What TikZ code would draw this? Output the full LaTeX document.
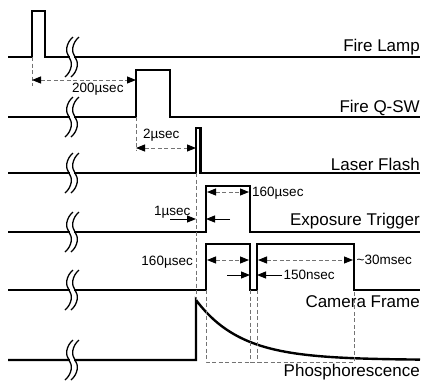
\documentclass[tikz,border=0pt]{standalone}
\usepackage{fontspec}
\setmainfont{Liberation Sans}
\usetikzlibrary{arrows.meta}
\begin{document}
\begin{tikzpicture}[x=1pt,y=-1pt,
  sig/.style={line width=2.4pt, line join=miter},
  guide/.style={draw=black!55, line width=0.9pt, dash pattern=on 4pt off 2.5pt},
  tip/.style={},
  dimarrow/.style={guide, {Triangle[length=9pt,width=7pt,color=black]}-{Triangle[length=9pt,width=7pt,color=black]}},
  solidarrow/.style={line width=0.9pt, -{Triangle[length=9pt,width=7pt]}},
  biglabel/.style={font=\fontsize{17}{19}\selectfont, inner sep=0pt, anchor=base east},
  smalllabel/.style={font=\fontsize{13.5}{15}\selectfont, inner sep=0pt},
  mybreak/.pic={
    \fill[white] (0.8,-3) rectangle (5.2,3);
    \foreach \dx in {0,6}{
      \draw[line width=1.3pt] (\dx+4,-20) .. controls (\dx-3,-14) and (\dx-4,-5) .. (\dx,0)
        .. controls (\dx+4,5) and (\dx+3,14) .. (\dx-4,20);
    }
  }
]
\useasboundingbox (0,0) rectangle (425,381);

% signals
\draw[sig] (8,57) -- (32,57) -- (32,11) -- (45,11) -- (45,57) -- (420,57);
\draw[sig] (8,117) -- (136,117) -- (136,70) -- (170,70) -- (170,117) -- (420,117);
\draw[sig] (8,173) -- (196,173) -- (196,128) -- (200.5,128) -- (200.5,173) -- (420,173);
\draw[sig] (8,232) -- (206,232) -- (206,186) -- (250,186) -- (250,232) -- (420,232);
\draw[sig] (8,290) -- (206,290) -- (206,244) -- (250,244) -- (250,290) -- (257,290)
  -- (257,244) -- (354,244) -- (354,290) -- (420,290);
\draw[sig] (8,360) -- (196,360) -- (196,300)
  -- plot[domain=196:420, samples=120] (\x,{360-60*exp(-(\x-196)/45)});

% breaks
\foreach \yy in {57,117,173,232,290,360}{
  \pic at (69,\yy) {mybreak};
}

% coordinates
\coordinate (lampStart) at (32,57);
\coordinate (lampEnd) at (32,86);
\coordinate (qswStart) at (136,117);
\coordinate (qswEnd) at (136,151);
\coordinate (a200L) at (32,80);
\coordinate (a200R) at (136,80);
\coordinate (a2L) at (136,148);
\coordinate (a2R) at (196,148);
\coordinate (laserBase) at (196,173);
\coordinate (phPeak) at (196,300);
\coordinate (e160L) at (207,192);
\coordinate (e160R) at (249,192);
\coordinate (c160L) at (207,260);
\coordinate (c160R) at (249,260);
\coordinate (c30L) at (258,260);
\coordinate (c30R) at (353,260);
\coordinate (u1a) at (170,219);
\coordinate (u1b) at (196,219);
\coordinate (u1c) at (230,219);
\coordinate (u1d) at (206,219);
\coordinate (n150a) at (227,275);
\coordinate (n150b) at (250,275);
\coordinate (n150c) at (282,275);
\coordinate (n150d) at (257,275);
\coordinate (g1t) at (206,290);
\coordinate (g1b) at (206,362);
\coordinate (g2t) at (250,290);
\coordinate (g2b) at (250,362);
\coordinate (g3t) at (257,290);
\coordinate (g3b) at (257,362);
\coordinate (g4t) at (354,290);
\coordinate (g4b) at (354,362);

% guides
\draw[guide] (lampStart) -- (lampEnd);
\draw[guide] (qswStart) -- (qswEnd);
\draw[guide] (laserBase) -- (phPeak);
\draw[guide] (g1t) -- (g1b) -- (g4b) -- (g4t);
\draw[guide] (g2t) -- (g2b);
\draw[guide] (g3t) -- (g3b);

% dimension arrows
\draw[dimarrow] (a200L) -- (a200R);
\draw[dimarrow] (a2L) -- (a2R);
\draw[dimarrow] (e160L) -- (e160R);
\draw[dimarrow] (c160L) -- (c160R);
\draw[dimarrow] (c30L) -- (c30R);
\draw[solidarrow] (u1a) -- (u1b);
\draw[solidarrow] (u1c) -- (u1d);
\draw[solidarrow] (n150a) -- (n150b);
\draw[solidarrow] (n150c) -- (n150d);

% small labels
\node[smalllabel, anchor=base west] (t200) at (72,92) {200µsec};
\node[smalllabel, anchor=base west] (t2) at (143,138.5) {2µsec};
\node[smalllabel, anchor=base west] (t1) at (154,215) {1µsec};
\node[smalllabel, anchor=base west] (t160e) at (252,196) {160µsec};
\node[smalllabel, anchor=base east] (t160c) at (193,265.5) {160µsec};
\node[smalllabel, anchor=base west] (t150) at (283.5,279.5) {150nsec};
\node[smalllabel, anchor=base west] (t30) at (356.5,264) {\char"007E 30msec};

% signal labels
\node[biglabel] (lLamp) at (420,51.5) {Fire Lamp};
\node[biglabel] (lQsw) at (420,112) {Fire Q-SW};
\node[biglabel] (lLaser) at (420,170) {Laser Flash};
\node[biglabel] (lExp) at (420,225.5) {Exposure Trigger};
\node[biglabel] (lCam) at (420,307) {Camera Frame};
\node[biglabel] (lPh) at (420,376) {Phosphorescence};
\end{tikzpicture}
\end{document}
